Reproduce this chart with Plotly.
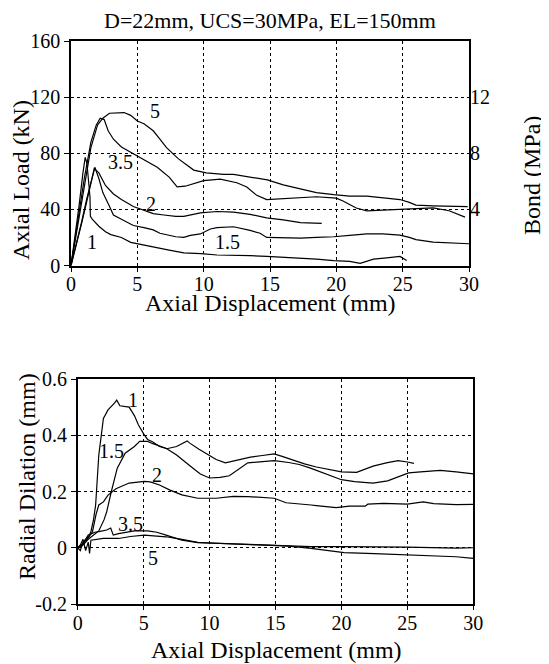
import plotly.graph_objects as go

# ---------------- Top panel: axial load vs axial displacement ----------------
disp_1 = [0, 0.3, 0.6, 0.9, 1.07, 1.2, 1.3, 1.43, 1.46, 1.6, 2.1, 2.6, 3.0, 3.8, 4.5, 5.0, 6.2, 7.4, 8.5, 9.8,
          11.0, 12.25, 13.5, 14.75, 16.0, 17.3, 18.5, 19.8, 21.0, 21.8, 22.8, 23.8, 24.8, 25.3]
load_1 = [0, 20, 42, 66, 77, 73, 64, 49, 35, 33, 28, 24, 22, 20, 16.5, 15.5, 13, 11, 9, 8.5,
          7.5, 7.5, 7.0, 6.5, 6.0, 5.0, 4.5, 3.5, 3.0, 1.5, 4.5, 5.5, 6.5, 3.5]

disp_15 = [0, 0.4, 0.8, 1.2, 1.5, 1.8, 2.1, 2.4, 2.86, 3.2, 3.8, 4.7, 5.5, 6.2, 6.7, 7.9, 8.5, 9.0, 9.75,
           10.5, 11.0, 12.25, 13.5, 14.25, 14.75, 16.0, 17.3, 18.5, 19.8, 21.0, 22.3, 23.5, 24.8, 25.5,
           26.0, 27.3, 28.5, 30.0]
load_15 = [0, 15, 31, 48, 60, 70, 62, 52, 43, 36, 33, 28.5, 27, 25.4, 23, 20.5, 20, 21.5, 22.5,
           26, 27, 27.6, 25, 23, 20, 19.5, 19.5, 20, 20.5, 21.5, 22.5, 22.5, 21.6, 20,
           18.5, 16.7, 16, 15.5]

disp_2 = [0, 0.4, 0.8, 1.2, 1.5, 1.75, 2.1, 2.6, 3.2, 3.8, 4.7, 5.5, 6.2, 7.0, 7.9, 8.5, 9.75, 11.0,
          12.25, 13.5, 14.75, 16.0, 17.3, 18.9]
load_2 = [0, 14, 30, 46, 58, 69, 66, 57, 51, 47, 42, 39.5, 37, 36, 35, 35, 37.5, 38.5,
          38, 36.5, 34, 32.5, 30.5, 30]

disp_35 = [0, 0.5, 1.0, 1.5, 1.9, 2.2, 2.5, 2.8, 3.2, 3.8, 4.7, 5.5, 6.5, 7.4, 8.0, 8.6, 10.0, 11.25,
           12.5, 13.25, 14.0, 14.75, 16.0, 17.5, 18.5, 20.0, 20.5, 21.5, 22.3, 23.5, 24.8, 26.0, 27.3,
           28.5, 29.7]
load_35 = [0, 32, 62, 88, 100, 105, 104, 96, 90, 84.5, 79.5, 75, 70, 63, 56, 56.5, 60.5, 61.5,
           59, 56, 50, 47, 47.5, 48.5, 49, 48, 46, 41, 39, 39.5, 40, 40.5, 41,
           39, 34.5]

disp_5 = [0, 0.5, 1.0, 1.5, 2.0, 2.4, 2.9, 3.5, 4.0, 4.5, 5.0, 5.5, 6.2, 6.7, 7.2, 8.1, 9.25, 10.2,
          11.5, 12.25, 13.5, 14.8, 16.0, 17.3, 18.5, 19.8, 21.0, 22.3, 23.5, 24.8, 25.5, 26.0, 27.3,
          28.5, 29.9]
load_5 = [0, 28, 58, 84, 100, 105, 108.5, 109, 109, 107, 103, 101, 96, 90, 84, 76, 68, 66,
          65, 65, 63, 61, 57.5, 54.5, 52, 50.5, 49.5, 49.5, 48.5, 47, 45, 43, 42.5,
          42.5, 42]

# ---------------- Bottom panel: radial dilation vs axial displacement ----------------
ddisp_1 = [0, 0.3, 0.6, 0.85, 1.0, 1.2, 1.36, 1.6, 1.95, 2.3, 2.8, 2.96, 3.2, 3.9, 4.3, 4.6, 5.0, 5.3,
           5.7, 6.2, 6.75, 7.5, 8.3, 8.5, 9.2, 9.8, 10.5, 11.2, 12.2, 13.1, 14.0, 14.9, 15.5, 16.35,
           17.2, 18.1, 19.4, 20.0, 21.15, 22.4, 23.4, 24.3, 25.0, 25.5]
dil_1 = [0, 0.005, 0.03, 0.04, 0.057, 0.1, 0.152, 0.33, 0.46, 0.49, 0.515, 0.525, 0.505, 0.5, 0.47,
         0.437, 0.405, 0.385, 0.376, 0.36, 0.352, 0.36, 0.38, 0.372, 0.35, 0.334, 0.314, 0.302,
         0.312, 0.322, 0.328, 0.334, 0.325, 0.311, 0.298, 0.287, 0.275, 0.27, 0.268, 0.29, 0.302,
         0.31, 0.305, 0.3]

ddisp_15 = [0, 0.4, 0.8, 1.24, 1.6, 2.0, 2.2, 2.55, 3.0, 3.6, 4.3, 4.7, 5.3, 5.7, 6.7, 7.5, 8.0, 8.6,
            9.3, 10.0, 10.8, 11.5, 12.9, 13.5, 14.9, 16.0, 16.8, 17.6, 18.3, 19.2, 20.0, 21.0, 22.4,
            23.5, 24.1, 25.1, 26.0, 27.5, 28.7, 30.0]
dil_15 = [0, 0.01, 0.03, 0.045, 0.06, 0.1, 0.128, 0.2, 0.283, 0.336, 0.36, 0.378, 0.378, 0.37, 0.354,
          0.33, 0.31, 0.288, 0.262, 0.248, 0.25, 0.256, 0.302, 0.305, 0.31, 0.303, 0.296, 0.284,
          0.272, 0.256, 0.242, 0.235, 0.23, 0.238, 0.248, 0.266, 0.27, 0.275, 0.27, 0.263]

ddisp_2 = [0, 0.4, 0.8, 1.12, 1.4, 1.6, 1.95, 2.3, 2.9, 3.9, 5.05, 5.5, 6.2, 7.0, 7.9, 8.5, 9.1, 10.5,
           11.8, 12.9, 14.3, 14.9, 15.8, 16.5, 17.7, 18.1, 19.6, 20.6, 21.8, 22.0, 23.2, 25.0, 26.2,
           27.0, 28.7, 30.0]
dil_2 = [0, 0.015, 0.035, 0.057, 0.12, 0.152, 0.163, 0.187, 0.21, 0.23, 0.236, 0.234, 0.223, 0.205,
         0.188, 0.182, 0.176, 0.176, 0.183, 0.182, 0.178, 0.176, 0.16, 0.158, 0.152, 0.15, 0.143,
         0.148, 0.148, 0.155, 0.158, 0.155, 0.163, 0.157, 0.153, 0.154]

ddisp_35 = [0, 0.2, 0.4, 0.6, 0.8, 1.0, 1.3, 1.7, 2.2, 2.5, 2.7, 3.1, 3.7, 4.3, 5.3, 6.0, 6.7, 7.9,
            9.1, 10.5, 12.0, 14.9, 17.7, 20.0, 22.5, 25.0, 28.7, 30.0]
dil_35 = [0, -0.01, 0.02, 0.03, 0.045, 0.05, 0.055, 0.058, 0.063, 0.07, 0.045, 0.05, 0.055, 0.06,
          0.06, 0.055, 0.045, 0.027, 0.018, 0.016, 0.013, 0.01, 0.004, 0.004, 0.004, 0.002, -0.001, 0.0]

ddisp_5 = [0, 0.2, 0.4, 0.6, 0.8, 0.9, 1.0, 1.5, 1.95, 3.1, 4.0, 5.05, 6.0, 6.7, 7.9, 9.1, 10.5, 12.5,
           14.9, 16.0, 17.7, 20.2, 22.5, 25.0, 27.0, 28.7, 30.0]
dil_5 = [0, 0.01, 0.03, -0.01, 0.02, -0.02, 0.027, 0.03, 0.033, 0.033, 0.04, 0.045, 0.043, 0.039, 0.03,
         0.019, 0.016, 0.013, 0.01, 0.006, -0.002, -0.017, -0.021, -0.026, -0.03, -0.032, -0.038]

# curve labels (text, x, y)
top_labels = [("5", 6.3, 110), ("3.5", 3.7, 74), ("2", 6.0, 44), ("1", 1.6, 17), ("1.5", 11.8, 17)]
bot_labels = [("1", 4.2, 0.525), ("1.5", 2.6, 0.345), ("2", 6.0, 0.257), ("3.5", 4.0, 0.086), ("5", 5.7, -0.035)]

load_tickvals = [0, 40, 80, 120, 160]
bond_tickvals = [4, 8, 12]
disp_tickvals = [0, 5, 10, 15, 20, 25, 30]
dil_tickvals = [-0.2, 0, 0.2, 0.4, 0.6]
dil_ticktext = ["-0.2", "0", "0.2", "0.4", "0.6"]

W, H = 549, 664
OFF = 8  # page body margin in the browser
FONT = "Liberation Serif, Times New Roman, Times, DejaVu Serif, serif"
LINE = dict(color="black", width=1.2)


def px(x):
    return (x - OFF) / W


def py(y):
    return 1 - (y - OFF) / H


fig = go.Figure()
for xs, ys in [(disp_1, load_1), (disp_15, load_15), (disp_2, load_2), (disp_35, load_35), (disp_5, load_5)]:
    fig.add_trace(go.Scatter(x=xs, y=ys, mode="lines", line=LINE, xaxis="x", yaxis="y", showlegend=False))
for xs, ys in [(ddisp_1, dil_1), (ddisp_15, dil_15), (ddisp_2, dil_2), (ddisp_35, dil_35), (ddisp_5, dil_5)]:
    fig.add_trace(go.Scatter(x=xs, y=ys, mode="lines", line=LINE, xaxis="x2", yaxis="y3", showlegend=False))
# invisible helper traces to activate the secondary axes (Bond scale, tick-mark overlays)
for xa, ya in [("x", "y2"), ("x3", "y"), ("x4", "y3")]:
    fig.add_trace(go.Scatter(x=[0], y=[0], mode="markers", marker=dict(opacity=0), xaxis=xa, yaxis=ya,
                             showlegend=False, hoverinfo="skip"))

axis_common = dict(showline=True, linecolor="black", linewidth=1.5, mirror=True,
                   ticks="outside", ticklen=5, tickwidth=1.2, tickcolor="black",
                   showgrid=True, gridcolor="black", griddash="dot", gridwidth=1,
                   zeroline=False, automargin=False,
                   tickfont=dict(family=FONT, size=20, color="black"))
# x axes carry labels/grid only; tick marks come from overlay axes so labels sit closer
xaxis_common = dict(axis_common, ticks="", ticklen=0)
tick_overlay = dict(range=[0, 30], tickvals=disp_tickvals, ticks="outside", ticklen=5, tickwidth=1.2,
                    tickcolor="black", showticklabels=False, showgrid=False, showline=False,
                    zeroline=False, automargin=False)

fig.update_layout(
    template="none",
    width=W, height=H,
    margin=dict(l=0, r=0, t=0, b=0, pad=0, autoexpand=False),
    paper_bgcolor="white", plot_bgcolor="white",
    font=dict(family=FONT, color="black"),
    xaxis=dict(domain=[px(71), px(469)], range=[0, 30], tickvals=disp_tickvals, anchor="y", **xaxis_common),
    yaxis=dict(domain=[py(265.5), py(41)], range=[0, 160], tickvals=load_tickvals, anchor="x", **axis_common),
    yaxis2=dict(overlaying="y", side="right", range=[0, 16], tickvals=bond_tickvals, anchor="x",
                showgrid=False, zeroline=False, showline=False, ticks="",
                automargin=False, tickfont=dict(family=FONT, size=20, color="black")),
    xaxis2=dict(domain=[px(77.7), px(473.3)], range=[0, 30], tickvals=disp_tickvals, anchor="y3",
                **xaxis_common),
    yaxis3=dict(domain=[py(604), py(379)], range=[-0.2, 0.6], tickvals=dil_tickvals, ticktext=dil_ticktext,
                anchor="x2", **axis_common),
    xaxis3=dict(overlaying="x", anchor="y", side="bottom", **tick_overlay),
    xaxis4=dict(overlaying="x2", anchor="y3", side="bottom", **tick_overlay),
)

ann = []
for t, x, y in top_labels:
    ann.append(dict(text=t, x=x, y=y, xref="x", yref="y", showarrow=False,
                    font=dict(family=FONT, size=20, color="black")))
for t, x, y in bot_labels:
    ann.append(dict(text=t, x=x, y=y, xref="x2", yref="y3", showarrow=False,
                    font=dict(family=FONT, size=20, color="black")))

titles = [
    ("D=22mm, UCS=30MPa, EL=150mm", 270, 20, 0, 22),
    ("Axial Load (kN)", 21, 180, -90, 24),
    ("Bond (MPa)", 532, 176, -90, 24),
    ("Axial Displacement (mm)", 270, 303, 0, 24),
    ("Radial Dilation (mm)", 27, 477, -90, 24),
    ("Axial Displacement (mm)", 276, 650, 0, 24),
]
for t, x, y, ang, sz in titles:
    ann.append(dict(text=t, x=px(x), y=py(y), xref="paper", yref="paper", showarrow=False,
                    xanchor="center", yanchor="middle", textangle=ang,
                    font=dict(family=FONT, size=sz, color="black")))
fig.update_layout(annotations=ann)

fig.write_html("out.html")
